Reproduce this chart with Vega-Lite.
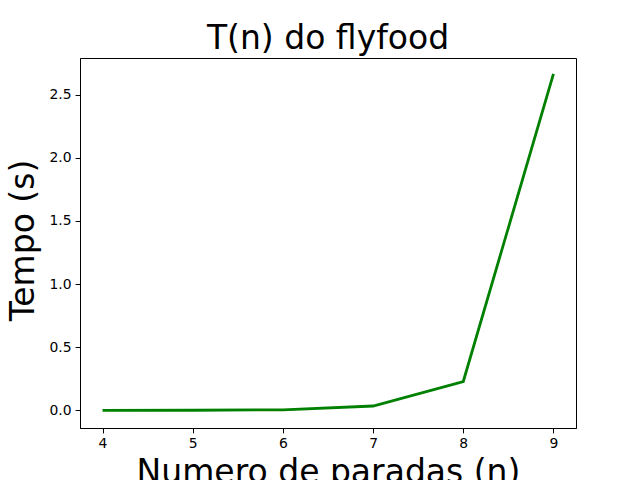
{
  "$schema": "https://vega.github.io/schema/vega-lite/v6.json",
  "autosize": {"type": "none"},
  "padding": {"left": 80, "top": 58, "right": 64, "bottom": 52},
  "width": 496,
  "height": 370,
  "background": "white",
  "title": {
    "text": "T(n) do flyfood",
    "font": "DejaVu Sans",
    "fontSize": 33,
    "fontWeight": "normal",
    "color": "black",
    "baseline": "alphabetic",
    "anchor": "middle",
    "frame": "group",
    "offset": 11,
    "dy": 35
  },
  "data": {
    "values": [
      {"n": 4, "t": 0.0003},
      {"n": 5, "t": 0.0015},
      {"n": 6, "t": 0.005},
      {"n": 7, "t": 0.035},
      {"n": 8, "t": 0.229},
      {"n": 9, "t": 2.664}
    ]
  },
  "mark": {"type": "line", "color": "#008000", "strokeWidth": 2.8},
  "encoding": {
    "x": {
      "field": "n",
      "type": "quantitative",
      "scale": {"domain": [3.75, 9.25], "nice": false, "zero": false},
      "axis": {
        "title": "Numero de paradas (n)",
        "values": [4, 5, 6, 7, 8, 9],
        "format": "d",
        "titleX": 248,
        "titleY": 54,
        "titleBaseline": "alphabetic",
        "titleAlign": "center"
      }
    },
    "y": {
      "field": "t",
      "type": "quantitative",
      "scale": {"domain": [-0.139, 2.79], "nice": false, "zero": false},
      "axis": {
        "title": "Tempo (s)",
        "values": [0, 0.5, 1, 1.5, 2, 2.5],
        "format": ".1f",
        "titleX": -47,
        "titleY": 182,
        "titleAngle": -90,
        "titleBaseline": "alphabetic",
        "titleAlign": "center"
      }
    }
  },
  "config": {
    "font": "DejaVu Sans",
    "view": {"stroke": "black", "strokeWidth": 1},
    "axis": {
      "grid": false,
      "domainColor": "black",
      "domainWidth": 1,
      "tickColor": "black",
      "tickWidth": 1,
      "tickSize": 4.9,
      "labelFont": "DejaVu Sans",
      "labelFontSize": 13.9,
      "labelColor": "black",
      "labelPadding": 4,
      "labelFlush": false,
      "labelOverlap": false,
      "titleFont": "DejaVu Sans",
      "titleFontSize": 33,
      "titleFontWeight": "normal",
      "titleColor": "black"
    }
  }
}
